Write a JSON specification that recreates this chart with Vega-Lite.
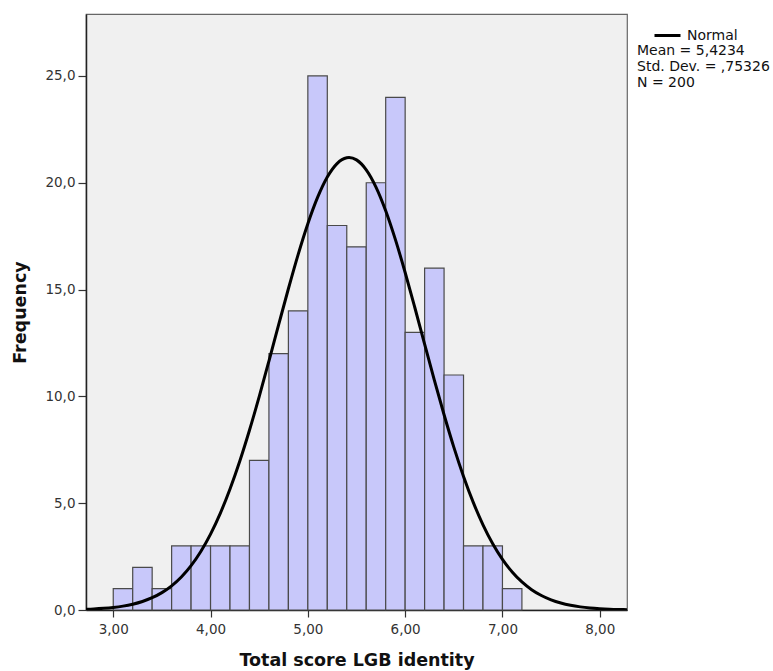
{
  "$schema": "https://vega.github.io/schema/vega-lite/v6.json",
  "autosize": {"type": "none"},
  "width": 541,
  "height": 596,
  "padding": {"left": 86, "top": 14, "right": 146, "bottom": 61},
  "background": "white",
  "config": {
    "view": {"fill": "#f0f0f0", "stroke": "#666666", "strokeWidth": 1.2},
    "font": "DejaVu Sans",
    "axis": {
      "grid": false,
      "domainColor": "#222222",
      "domainWidth": 1.5,
      "tickColor": "#333333",
      "tickWidth": 1.2,
      "labelFont": "DejaVu Sans",
      "labelFontSize": 13.5,
      "labelColor": "#333333",
      "titleFont": "DejaVu Sans",
      "titleFontSize": 17.5,
      "titleFontWeight": "bold",
      "titleColor": "#111111"
    }
  },
  "datasets": {
    "bins": [
      {"start": 3.0, "end": 3.2, "count": 1},
      {"start": 3.2, "end": 3.4, "count": 2},
      {"start": 3.4, "end": 3.6, "count": 1},
      {"start": 3.6, "end": 3.8, "count": 3},
      {"start": 3.8, "end": 4.0, "count": 3},
      {"start": 4.0, "end": 4.2, "count": 3},
      {"start": 4.2, "end": 4.4, "count": 3},
      {"start": 4.4, "end": 4.6, "count": 7},
      {"start": 4.6, "end": 4.8, "count": 12},
      {"start": 4.8, "end": 5.0, "count": 14},
      {"start": 5.0, "end": 5.2, "count": 25},
      {"start": 5.2, "end": 5.4, "count": 18},
      {"start": 5.4, "end": 5.6, "count": 17},
      {"start": 5.6, "end": 5.8, "count": 20},
      {"start": 5.8, "end": 6.0, "count": 24},
      {"start": 6.0, "end": 6.2, "count": 13},
      {"start": 6.2, "end": 6.4, "count": 16},
      {"start": 6.4, "end": 6.6, "count": 11},
      {"start": 6.6, "end": 6.8, "count": 3},
      {"start": 6.8, "end": 7.0, "count": 3},
      {"start": 7.0, "end": 7.2, "count": 1}
    ],
    "curve": [
      {"x": 2.72, "y": 0.034, "s": "Normal"},
      {"x": 2.8, "y": 0.049, "s": "Normal"},
      {"x": 2.9, "y": 0.078, "s": "Normal"},
      {"x": 3.0, "y": 0.120, "s": "Normal"},
      {"x": 3.1, "y": 0.182, "s": "Normal"},
      {"x": 3.2, "y": 0.272, "s": "Normal"},
      {"x": 3.3, "y": 0.399, "s": "Normal"},
      {"x": 3.4, "y": 0.574, "s": "Normal"},
      {"x": 3.5, "y": 0.813, "s": "Normal"},
      {"x": 3.6, "y": 1.131, "s": "Normal"},
      {"x": 3.7, "y": 1.546, "s": "Normal"},
      {"x": 3.8, "y": 2.076, "s": "Normal"},
      {"x": 3.9, "y": 2.740, "s": "Normal"},
      {"x": 4.0, "y": 3.552, "s": "Normal"},
      {"x": 4.1, "y": 4.525, "s": "Normal"},
      {"x": 4.2, "y": 5.664, "s": "Normal"},
      {"x": 4.3, "y": 6.965, "s": "Normal"},
      {"x": 4.4, "y": 8.416, "s": "Normal"},
      {"x": 4.5, "y": 9.991, "s": "Normal"},
      {"x": 4.6, "y": 11.654, "s": "Normal"},
      {"x": 4.7, "y": 13.355, "s": "Normal"},
      {"x": 4.8, "y": 15.038, "s": "Normal"},
      {"x": 4.9, "y": 16.638, "s": "Normal"},
      {"x": 5.0, "y": 18.085, "s": "Normal"},
      {"x": 5.1, "y": 19.315, "s": "Normal"},
      {"x": 5.2, "y": 20.269, "s": "Normal"},
      {"x": 5.3, "y": 20.898, "s": "Normal"},
      {"x": 5.4, "y": 21.170, "s": "Normal"},
      {"x": 5.4234, "y": 21.180, "s": "Normal"},
      {"x": 5.5, "y": 21.071, "s": "Normal"},
      {"x": 5.6, "y": 20.606, "s": "Normal"},
      {"x": 5.7, "y": 19.799, "s": "Normal"},
      {"x": 5.8, "y": 18.691, "s": "Normal"},
      {"x": 5.9, "y": 17.337, "s": "Normal"},
      {"x": 6.0, "y": 15.800, "s": "Normal"},
      {"x": 6.1, "y": 14.149, "s": "Normal"},
      {"x": 6.2, "y": 12.448, "s": "Normal"},
      {"x": 6.3, "y": 10.761, "s": "Normal"},
      {"x": 6.4, "y": 9.140, "s": "Normal"},
      {"x": 6.5, "y": 7.626, "s": "Normal"},
      {"x": 6.6, "y": 6.253, "s": "Normal"},
      {"x": 6.7, "y": 5.037, "s": "Normal"},
      {"x": 6.8, "y": 3.988, "s": "Normal"},
      {"x": 6.9, "y": 3.101, "s": "Normal"},
      {"x": 7.0, "y": 2.370, "s": "Normal"},
      {"x": 7.1, "y": 1.779, "s": "Normal"},
      {"x": 7.2, "y": 1.312, "s": "Normal"},
      {"x": 7.3, "y": 0.951, "s": "Normal"},
      {"x": 7.4, "y": 0.677, "s": "Normal"},
      {"x": 7.5, "y": 0.474, "s": "Normal"},
      {"x": 7.6, "y": 0.326, "s": "Normal"},
      {"x": 7.7, "y": 0.220, "s": "Normal"},
      {"x": 7.8, "y": 0.146, "s": "Normal"},
      {"x": 7.9, "y": 0.095, "s": "Normal"},
      {"x": 8.0, "y": 0.061, "s": "Normal"},
      {"x": 8.1, "y": 0.038, "s": "Normal"},
      {"x": 8.2, "y": 0.024, "s": "Normal"},
      {"x": 8.28, "y": 0.016, "s": "Normal"}
    ]
  },
  "layer": [
    {
      "data": {"name": "bins"},
      "mark": {"type": "rect", "fill": "#c8c8fa", "stroke": "#4a4a4a", "strokeWidth": 1.2},
      "encoding": {
        "x": {
          "field": "start", "type": "quantitative",
          "scale": {"domain": [2.72, 8.28], "nice": false, "zero": false},
          "axis": {
            "values": [3, 4, 5, 6, 7, 8],
            "labelExpr": "replace(format(datum.value, '.2f'), '.', ',')",
            "title": "Total score LGB identity",
            "titlePadding": 16,
            "tickSize": 7,
            "labelPadding": 5
          }
        },
        "x2": {"field": "end"},
        "y": {
          "field": "count", "type": "quantitative",
          "scale": {"domain": [0, 27.9], "nice": false},
          "axis": {
            "values": [0, 5, 10, 15, 20, 25],
            "labelExpr": "replace(format(datum.value, '.1f'), '.', ',')",
            "title": "Frequency",
            "titlePadding": 15,
            "tickSize": 8,
            "labelPadding": 3
          }
        },
        "y2": {"datum": 0}
      }
    },
    {
      "data": {"name": "curve"},
      "mark": {"type": "line", "strokeWidth": 3, "clip": true, "interpolate": "monotone"},
      "encoding": {
        "x": {"field": "x", "type": "quantitative"},
        "y": {"field": "y", "type": "quantitative"},
        "stroke": {
          "field": "s", "type": "nominal",
          "scale": {"domain": ["Normal"], "range": ["#000000"]},
          "legend": {
            "orient": "none",
            "legendX": 551,
            "legendY": 7,
            "title": ["Mean = 5,4234", "Std. Dev. = ,75326", "N = 200"],
            "titleOrient": "bottom",
            "titleAnchor": "start",
            "titleFont": "DejaVu Sans",
            "titleFontSize": 14,
            "titleFontWeight": "normal",
            "titleColor": "#111111",
            "titleLineHeight": 16,
            "titlePadding": 1,
            "symbolType": "stroke",
            "symbolSize": 676,
            "symbolStrokeWidth": 3,
            "symbolOffset": 16,
            "labelFont": "DejaVu Sans",
            "labelFontSize": 14,
            "labelColor": "#111111",
            "labelOffset": 5
          }
        }
      }
    }
  ]
}
